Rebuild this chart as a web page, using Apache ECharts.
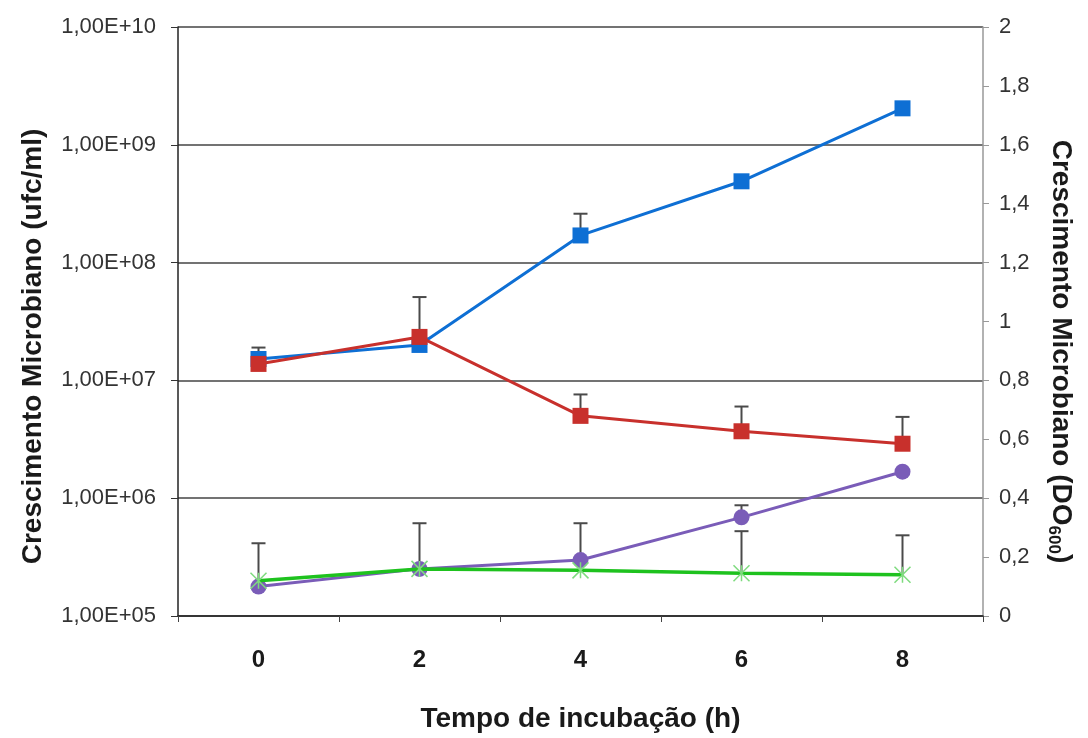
<!DOCTYPE html>
<html>
<head>
<meta charset="utf-8">
<script src="https://cdn.jsdelivr.net/npm/echarts@6/dist/echarts.min.js"></script>
<style>
  html, body { margin: 0; padding: 0; background: #fff; }
  #chart { width: 1088px; height: 738px; }
</style>
</head>
<body>
<div id="chart"></div>
<script>
  // tempo de incubação (h)
  let horas = ['0', '2', '4', '6', '8'];

  // ufc/ml (eixo log, esquerda)
  let azul = [1.52e7, 2.0e7, 1.7e8, 4.9e8, 2.04e9];
  let azulErro = [1.9e7, null, 2.6e8, null, null];
  let vermelho = [1.38e7, 2.34e7, 5.0e6, 3.7e6, 2.9e6];
  let vermelhoErro = [null, 5.1e7, 7.6e6, 6.0e6, 4.9e6];

  // DO600 (eixo direito)
  let roxo = [0.10, 0.16, 0.19, 0.335, 0.49];
  let roxoErro = [null, 0.315, 0.315, 0.376, null];
  let verde = [0.12, 0.16, 0.155, 0.145, 0.14];
  let verdeErro = [0.247, null, null, 0.288, 0.274];

  let chart = echarts.init(document.getElementById('chart'));

  // barra de erro so para cima, com tampa
  function errorSeries(base, top, axis) {
    let data = [];
    for (let i = 0; i < base.length; i++) {
      if (top[i] != null) data.push([i, base[i], top[i]]);
    }
    return {
      type: 'custom',
      yAxisIndex: axis,
      z: 1,
      silent: true,
      data: data,
      renderItem: function (params, api) {
        let p0 = api.coord([api.value(0), api.value(1)]);
        let p1 = api.coord([api.value(0), api.value(2)]);
        let st = {stroke: '#4a4a4a', lineWidth: 2};
        return {
          type: 'group',
          children: [
            {type: 'line', shape: {x1: p0[0], y1: p0[1], x2: p1[0], y2: p1[1]}, style: st},
            {type: 'line', shape: {x1: p1[0] - 7, y1: p1[1], x2: p1[0] + 7, y2: p1[1]}, style: st}
          ]
        };
      }
    };
  }

  let font = '"Liberation Sans", Arial, sans-serif';
  let titleStyle = {fontFamily: font, fontWeight: 'bold', fontSize: 28, color: '#1a1a1a'};

  let option = {
    animation: false,
    backgroundColor: '#fff',
    grid: {left: 178, right: 105, top: 27, bottom: 120},
    xAxis: {
      type: 'category',
      data: horas,
      boundaryGap: true,
      name: 'Tempo de incubação (h)',
      nameLocation: 'middle',
      nameGap: 89,
      nameTextStyle: titleStyle,
      axisLine: {lineStyle: {color: '#222', width: 1.5}},
      axisTick: {show: true, length: 6, lineStyle: {color: '#444'}},
      axisLabel: {
        margin: 32,
        fontFamily: '"Liberation Sans Narrow", ' + font,
        fontWeight: 'bold',
        fontSize: 24,
        color: '#1a1a1a'
      },
      splitLine: {show: false}
    },
    yAxis: [
      {
        type: 'log',
        logBase: 10,
        min: 1e5,
        max: 1e10,
        splitNumber: 5,
        position: 'left',
        name: 'Crescimento Microbiano (ufc/ml)',
        nameLocation: 'middle',
        nameGap: 131,
        nameTextStyle: Object.assign({padding: [0, 50, 0, 0]}, titleStyle),
        axisLine: {show: true, lineStyle: {color: '#222', width: 1.5}},
        axisTick: {show: true, length: 7, lineStyle: {color: '#333'}},
        axisLabel: {
          margin: 22,
          fontFamily: font,
          fontSize: 22,
          color: '#333',
          formatter: function (v) {
            let e = Math.round(Math.log10(v));
            return '1,00E+' + (e < 10 ? '0' + e : e);
          }
        },
        splitLine: {show: true, lineStyle: {color: '#444', width: 1.5}}
      },
      {
        type: 'value',
        min: 0,
        max: 2,
        interval: 0.2,
        position: 'right',
        name: '{t|Crescimento Microbiano (DO}{s|600}{t|)}',
        nameLocation: 'middle',
        nameGap: 62,
        nameRotate: -90,
        nameTextStyle: {
          padding: [0, 0, 0, 60],
          rich: {
            t: titleStyle,
            s: {fontFamily: font, fontWeight: 'bold', fontSize: 17, color: '#1a1a1a', padding: [14, 0, 0, 0]}
          }
        },
        axisLine: {show: true, lineStyle: {color: '#999', width: 1.5}},
        axisTick: {show: true, length: 6, lineStyle: {color: '#999'}},
        axisLabel: {
          margin: 16,
          fontFamily: font,
          fontSize: 22,
          color: '#333',
          formatter: function (v) { return String(Math.round(v * 10) / 10).replace('.', ','); }
        },
        splitLine: {show: false}
      }
    ],
    series: [
      errorSeries(azul, azulErro, 0),
      errorSeries(vermelho, vermelhoErro, 0),
      errorSeries(roxo, roxoErro, 1),
      errorSeries(verde, verdeErro, 1),
      {
        name: 'roxo',
        type: 'line',
        yAxisIndex: 1,
        data: roxo,
        symbol: 'circle',
        symbolSize: 16,
        z: 3,
        lineStyle: {color: '#7a5cb8', width: 3},
        itemStyle: {color: '#7a5cb8'}
      },
      {
        name: 'verde',
        type: 'line',
        yAxisIndex: 1,
        data: verde,
        symbol: 'path://M0,0L10,10M10,0L0,10M5,0L5,10',
        symbolSize: 16,
        z: 4,
        lineStyle: {color: '#1ec21e', width: 3.5},
        itemStyle: {color: 'transparent', borderColor: '#7edb7e', borderWidth: 1.5}
      },
      {
        name: 'azul',
        type: 'line',
        yAxisIndex: 0,
        data: azul,
        symbol: 'rect',
        symbolSize: 16,
        z: 3,
        lineStyle: {color: '#0e6fd4', width: 3},
        itemStyle: {color: '#0e6fd4'}
      },
      {
        name: 'vermelho',
        type: 'line',
        yAxisIndex: 0,
        data: vermelho,
        symbol: 'rect',
        symbolSize: 16,
        z: 4,
        lineStyle: {color: '#c8302c', width: 3},
        itemStyle: {color: '#c8302c'}
      }
    ]
  };

  chart.setOption(option);
</script>
</body>
</html>
